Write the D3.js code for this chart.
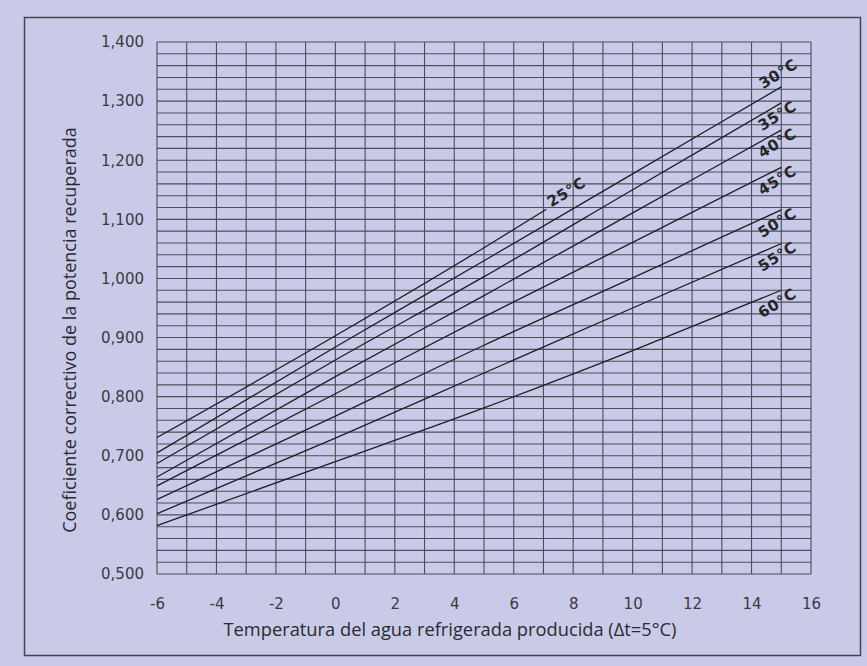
<!DOCTYPE html>
<html>
<head>
<meta charset="utf-8">
<script src="https://cdn.jsdelivr.net/npm/d3@7"></script>
<style>
  html, body { margin: 0; padding: 0; background: #c8cae8; }
  svg { display: block; }
</style>
</head>
<body>
<div id="chart"></div>
<script>
// x positions where each curve was read (water temperature, °C)
const xRead = [-6, 0, 5, 10, 15];

// condensing temperatures (curve names)
const curveNames = ['25°C', '30°C', '35°C', '40°C', '45°C', '50°C', '55°C', '60°C'];

// correction coefficient read at xRead (25°C stops near x=7.1)
const c25 = [0.731, 0.903, 1.052, 1.117];
const c25x = [-6, 0, 5, 7.1];
const c30 = [0.705, 0.884, 1.030, 1.177, 1.324];
const c35 = [0.687, 0.862, 1.003, 1.150, 1.297];
const c40 = [0.664, 0.834, 0.971, 1.111, 1.251];
const c45 = [0.649, 0.805, 0.935, 1.061, 1.188];
const c50 = [0.626, 0.767, 0.887, 1.001, 1.116];
const c55 = [0.602, 0.730, 0.840, 0.950, 1.059];
const c60 = [0.582, 0.690, 0.781, 0.878, 0.980];

const xTicks = [-6, -4, -2, 0, 2, 4, 6, 8, 10, 12, 14, 16];
const yTicks = [0.5, 0.6, 0.7, 0.8, 0.9, 1.0, 1.1, 1.2, 1.3, 1.4];

const width = 867, height = 666;
const margin = { left: 157, right: 56, top: 42, bottom: 92 };

const svg = d3.select('#chart').append('svg')
  .attr('width', width)
  .attr('height', height);

svg.append('rect')
  .attr('width', width).attr('height', height)
  .attr('fill', '#c8cae8');

// outer frame
svg.append('rect')
  .attr('x', 24.5).attr('y', 17.5)
  .attr('width', 836).attr('height', 638)
  .attr('fill', 'none')
  .attr('stroke', '#45454d')
  .attr('stroke-width', 1.5);

const x = d3.scaleLinear().domain([-6, 16]).range([margin.left, width - margin.right]);
const y = d3.scaleLinear().domain([0.5, 1.4]).range([height - margin.bottom, margin.top]);

// grid: vertical every 1, horizontal every 0.02
const grid = svg.append('g').attr('stroke', '#4d4e5a').attr('stroke-width', 1.1);
grid.selectAll('line.v')
  .data(d3.range(-6, 16.001, 1))
  .join('line')
  .attr('x1', d => x(d)).attr('x2', d => x(d))
  .attr('y1', y(0.5)).attr('y2', y(1.4));
grid.selectAll('line.h')
  .data(d3.range(0, 46).map(i => 0.5 + i * 0.02))
  .join('line')
  .attr('x1', x(-6)).attr('x2', x(16))
  .attr('y1', d => y(d)).attr('y2', d => y(d));

// axes
const tickFont = '"DejaVu Sans", sans-serif';
const yAxis = svg.append('g')
  .attr('transform', `translate(${margin.left},0)`)
  .call(d3.axisLeft(y).tickValues(yTicks).tickSize(0).tickPadding(13)
    .tickFormat(d => d3.format('.3f')(d).replace('.', ',')));
const xAxis = svg.append('g')
  .attr('transform', `translate(0,${height - margin.bottom})`)
  .call(d3.axisBottom(x).tickValues(xTicks).tickSize(0).tickPadding(24)
    .tickFormat(d => String(d)));
[xAxis, yAxis].forEach(a => {
  a.select('.domain').remove();
  a.selectAll('text')
    .attr('fill', '#3a3a40')
    .style('font-family', tickFont)
    .style('font-size', '15px');
});

// curves
const series = [
  { name: curveNames[0], xs: c25x, ys: c25 },
  { name: curveNames[1], xs: xRead, ys: c30 },
  { name: curveNames[2], xs: xRead, ys: c35 },
  { name: curveNames[3], xs: xRead, ys: c40 },
  { name: curveNames[4], xs: xRead, ys: c45 },
  { name: curveNames[5], xs: xRead, ys: c50 },
  { name: curveNames[6], xs: xRead, ys: c55 },
  { name: curveNames[7], xs: xRead, ys: c60 }
];

const line = d3.line()
  .x(d => x(d[0]))
  .y(d => y(d[1]))
  .curve(d3.curveMonotoneX);

svg.append('g')
  .selectAll('path')
  .data(series)
  .join('path')
  .attr('d', s => line(s.xs.map((v, i) => [v, s.ys[i]])))
  .attr('fill', 'none')
  .attr('stroke', '#1e1e24')
  .attr('stroke-width', 1.3);

// curve labels near the end of each curve
svg.append('g')
  .selectAll('text')
  .data(series)
  .join('text')
  .attr('transform', s => {
    const ex = x(s.xs[s.xs.length - 1]);
    const ey = y(s.ys[s.ys.length - 1]);
    let dx = -4, dy = 13;
    if (s.name === '30°C') { dx = -3; dy = -13; }
    if (s.name === '25°C') { dx = 20; dy = -17; }
    return `translate(${ex + dx},${ey + dy}) rotate(-32)`;
  })
  .attr('text-anchor', 'middle')
  .attr('dominant-baseline', 'central')
  .attr('fill', '#25252b')
  .style('font-family', tickFont)
  .style('font-size', '15px')
  .style('font-weight', 'bold')
  .style('letter-spacing', '0.6px')
  .text(s => s.name);

// axis titles
svg.append('text')
  .attr('x', 450)
  .attr('y', 636)
  .attr('text-anchor', 'middle')
  .attr('fill', '#2a2a30')
  .style('font-family', '"Open Sans", sans-serif')
  .style('font-size', '18.3px')
  .text('Temperatura del agua refrigerada producida (Δt=5°C)');

svg.append('text')
  .attr('transform', 'translate(76,330) rotate(-90)')
  .attr('text-anchor', 'middle')
  .attr('fill', '#2a2a30')
  .style('font-family', '"Open Sans", sans-serif')
  .style('font-size', '18px')
  .text('Coeficiente correctivo de la potencia recuperada');
</script>
</body>
</html>
